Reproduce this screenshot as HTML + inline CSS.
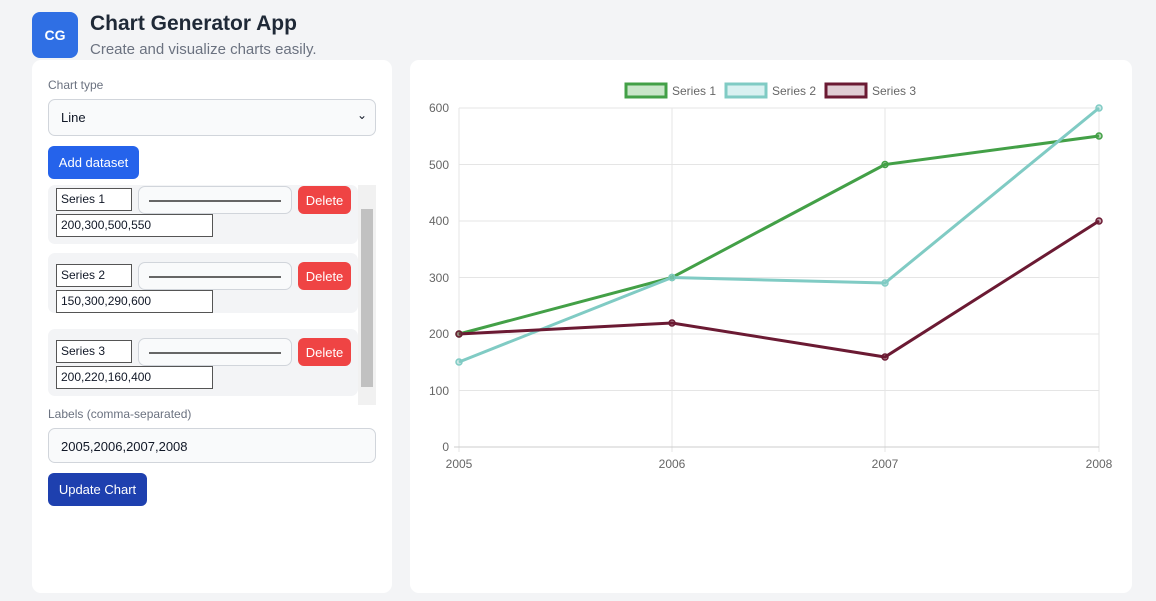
<!DOCTYPE html>
<html><head><meta charset="utf-8"><style>
*{box-sizing:border-box}
body{margin:0;width:1156px;height:601px;background:#f3f4f6;font-family:"Liberation Sans",sans-serif;position:relative;overflow:hidden;color:#111827}
.abs{position:absolute}
.logo{left:32px;top:12px;width:46px;height:46px;background:#2f6fe4;border-radius:8px;color:#fff;font-weight:bold;font-size:14px;display:flex;align-items:center;justify-content:center}
h1{position:absolute;left:90px;top:12px;margin:0;font-size:21px;font-weight:bold;color:#1f2937}
.sub{left:90px;top:41px;font-size:15px;color:#6b7280}
.panel{background:#fff;border-radius:9px}
.lbl{font-size:12px;color:#6b7280}
.sel{left:48px;top:99px;width:328px;height:37px;border:1px solid #d1d5db;border-radius:7px;background:#f9fafb;font-size:13px;padding:10px 12px}
.btn{border-radius:6px;color:#fff;font-size:13px;display:flex;align-items:center;justify-content:center}
.item{left:48px;width:310px;height:60px;background:#f3f4f6;border-radius:7px}
.inp{background:#fff;border:1px solid #555;font-size:12px;padding:3px 4px;height:23px}
.col{width:154px;height:28px;border:1px solid #d1d5db;border-radius:7px;background:#f9fafb}
.col:after{content:"";position:absolute;left:10px;right:10px;top:13px;height:2px;background:#666}
.del{width:53px;height:28px;background:#ef4444}
</style></head><body>
<div class="abs logo">CG</div>
<h1>Chart Generator App</h1>
<div class="abs sub">Create and visualize charts easily.</div>
<div class="abs panel" style="left:32px;top:60px;width:360px;height:533px"></div>
<div class="abs panel" style="left:410px;top:60px;width:722px;height:533px"></div>
<div class="abs lbl" style="left:48px;top:78px">Chart type</div>
<div class="abs sel">Line<span style="position:absolute;right:8px;top:8px;font-size:12px">&#8964;</span></div>
<div class="abs btn" style="left:48px;top:146px;width:91px;height:33px;background:#2563eb">Add dataset</div>
<div class="abs" style="left:358px;top:185px;width:18px;height:220px;background:#f1f1f1"><div class="abs" style="left:3px;top:24px;width:12px;height:178px;background:#c1c1c1"></div></div>
<div class="abs item" style="left:48px;top:185px;height:59px"></div>
<div class="abs inp" style="left:56px;top:188px;width:76px">Series 1</div>
<div class="abs col" style="left:138px;top:186px"></div>
<div class="abs btn del" style="left:298px;top:186px">Delete</div>
<div class="abs inp" style="left:56px;top:214px;width:157px">200,300,500,550</div>
<div class="abs item" style="top:253px"></div>
<div class="abs inp" style="left:56px;top:264px;width:76px">Series 2</div>
<div class="abs col" style="left:138px;top:262px"></div>
<div class="abs btn del" style="left:298px;top:262px">Delete</div>
<div class="abs inp" style="left:56px;top:290px;width:157px">150,300,290,600</div>
<div class="abs item" style="top:329px;height:67px"></div>
<div class="abs inp" style="left:56px;top:340px;width:76px">Series 3</div>
<div class="abs col" style="left:138px;top:338px"></div>
<div class="abs btn del" style="left:298px;top:338px">Delete</div>
<div class="abs inp" style="left:56px;top:366px;width:157px">200,220,160,400</div>
<div class="abs lbl" style="left:48px;top:407px">Labels (comma-separated)</div>
<div class="abs sel" style="top:428px;height:35px;font-size:13px;padding:10px 12px">2005,2006,2007,2008</div>
<div class="abs btn" style="left:48px;top:473px;width:99px;height:33px;background:#1e40af">Update Chart</div>
<svg class="abs" style="left:0;top:0" width="1156" height="601" font-family="Liberation Sans,sans-serif" font-size="12" fill="#666">
<g stroke="#e5e5e5" stroke-width="1">
<line x1="459" y1="108" x2="1099" y2="108"/><line x1="459" y1="164.5" x2="1099" y2="164.5"/><line x1="459" y1="221" x2="1099" y2="221"/><line x1="459" y1="277.5" x2="1099" y2="277.5"/><line x1="459" y1="334" x2="1099" y2="334"/><line x1="459" y1="390.5" x2="1099" y2="390.5"/>
<line x1="459" y1="108" x2="459" y2="452"/><line x1="672" y1="108" x2="672" y2="452"/><line x1="885" y1="108" x2="885" y2="452"/><line x1="1099" y1="108" x2="1099" y2="452"/>
<line x1="454" y1="447" x2="1099" y2="447" stroke="#ccc"/>
</g>
<g text-anchor="end"><text x="449" y="112">600</text><text x="449" y="169">500</text><text x="449" y="225">400</text><text x="449" y="282">300</text><text x="449" y="338">200</text><text x="449" y="395">100</text><text x="449" y="451">0</text></g>
<g text-anchor="middle"><text x="459" y="468">2005</text><text x="672" y="468">2006</text><text x="885" y="468">2007</text><text x="1099" y="468">2008</text></g>
<rect x="626" y="84" width="40" height="13" fill="#c9e6c9" stroke="#43a047" stroke-width="3"/><text x="672" y="95">Series 1</text>
<rect x="726" y="84" width="40" height="13" fill="#d9f1f1" stroke="#80cbc4" stroke-width="3"/><text x="772" y="95">Series 2</text>
<rect x="826" y="84" width="40" height="13" fill="#e0cdd4" stroke="#6b1a33" stroke-width="3"/><text x="872" y="95">Series 3</text>
<g fill="none" stroke-width="3">
<polyline stroke="#43a047" points="459,334 672,277.5 885,164.5 1099,136"/>
<polyline stroke="#80cbc4" points="459,362 672,277.5 885,283 1099,108"/>
<polyline stroke="#6b1a33" points="459,334 672,323 885,357 1099,221"/>
</g>
<g stroke-width="1.5" fill-opacity="0.4">
<g stroke="#43a047" fill="#43a047"><circle cx="459" cy="334" r="3"/><circle cx="672" cy="277.5" r="3"/><circle cx="885" cy="164.5" r="3"/><circle cx="1099" cy="136" r="3"/></g>
<g stroke="#80cbc4" fill="#80cbc4"><circle cx="459" cy="362" r="3"/><circle cx="672" cy="277.5" r="3"/><circle cx="885" cy="283" r="3"/><circle cx="1099" cy="108" r="3"/></g>
<g stroke="#6b1a33" fill="#6b1a33"><circle cx="459" cy="334" r="3"/><circle cx="672" cy="323" r="3"/><circle cx="885" cy="357" r="3"/><circle cx="1099" cy="221" r="3"/></g>
</g>
</svg>
</body></html>
